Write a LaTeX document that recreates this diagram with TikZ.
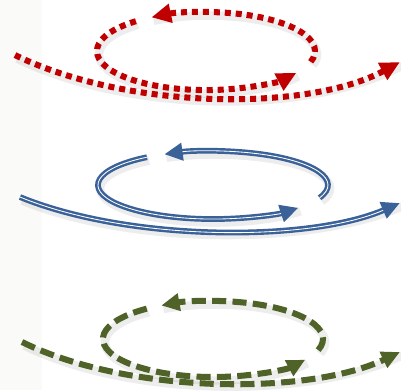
\documentclass[tikz,border=0pt]{standalone}
\usetikzlibrary{arrows.meta}
\definecolor{loopred}{HTML}{C00000}
\definecolor{loopblue}{HTML}{3A6298}
\definecolor{loopgreen}{HTML}{4F6228}
\definecolor{stripgray}{HTML}{FAFBF8}

\begin{document}
\begin{tikzpicture}[scale=0.025,
                softshadow/.style={preaction={draw=black, opacity=0.07, line width=6pt, solid, -,
                    transform canvas={shift={(1.5pt,-2.5pt)}}}},
                redline/.style={softshadow, draw=loopred, line width=4.3pt,
                    dash pattern=on 4.3pt off 3.5pt, -{Triangle[length=14pt, width=13pt]}},
                blueline/.style={softshadow, draw=loopblue, line width=4.1pt,
                    -{Triangle[length=13pt, width=12pt]}},
                bluecore/.style={draw=white, line width=0.6pt, shorten >=13pt},
                greenline/.style={softshadow, draw=loopgreen, line width=4.3pt,
                    dash pattern=on 10pt off 4.5pt, -{Triangle[length=13pt, width=12pt]}},
            ]
            \useasboundingbox (0,0) rectangle (401,390);
            \fill[stripgray] (0,0) rectangle (42,390);

            % Red loop and sweep
            \coordinate (redc) at (206,339);
            \coordinate (redin) at (15,335);
            \coordinate (redout) at (400,328);
            \draw[redline] (redc) ++(-16:109 and 39) arc[start angle=-16, end angle=120, x radius=109, y radius=39];
            \draw[redline] (redc) ++(130:109 and 39) arc[start angle=130, end angle=326, x radius=109, y radius=39];
            \draw[redline] (redin) .. controls (130,279) and (310,279) .. (redout);

            % Blue loop and sweep
            \coordinate (bluec) at (213,205);
            \coordinate (bluein) at (20,193);
            \coordinate (blueout) at (400,187);
            \draw[blueline] (bluec) ++(-22:115 and 34) arc[start angle=-22, end angle=115, x radius=115, y radius=34];
            \draw[bluecore] (bluec) ++(-22:115 and 34) arc[start angle=-22, end angle=115, x radius=115, y radius=34];
            \draw[blueline] (bluec) ++(125:115 and 34) arc[start angle=125, end angle=318, x radius=115, y radius=34];
            \draw[bluecore] (bluec) ++(125:115 and 34) arc[start angle=125, end angle=318, x radius=115, y radius=34];
            \draw[blueline] (bluein) .. controls (130,148) and (310,148) .. (blueout);
            \draw[bluecore] (bluein) .. controls (130,148) and (310,148) .. (blueout);

            % Green loop and sweep
            \coordinate (greenc) at (213,51);
            \coordinate (greenin) at (22,48);
            \coordinate (greenout) at (400,38);
            \draw[greenline] (greenc) ++(-17:110 and 38) arc[start angle=-17, end angle=118, x radius=110, y radius=38];
            \draw[greenline] (greenc) ++(127:110 and 38) arc[start angle=127, end angle=327, x radius=110, y radius=38];
            \draw[greenline] (greenin) .. controls (130,-5) and (310,-5) .. (greenout);

\end{tikzpicture}
\end{document}
